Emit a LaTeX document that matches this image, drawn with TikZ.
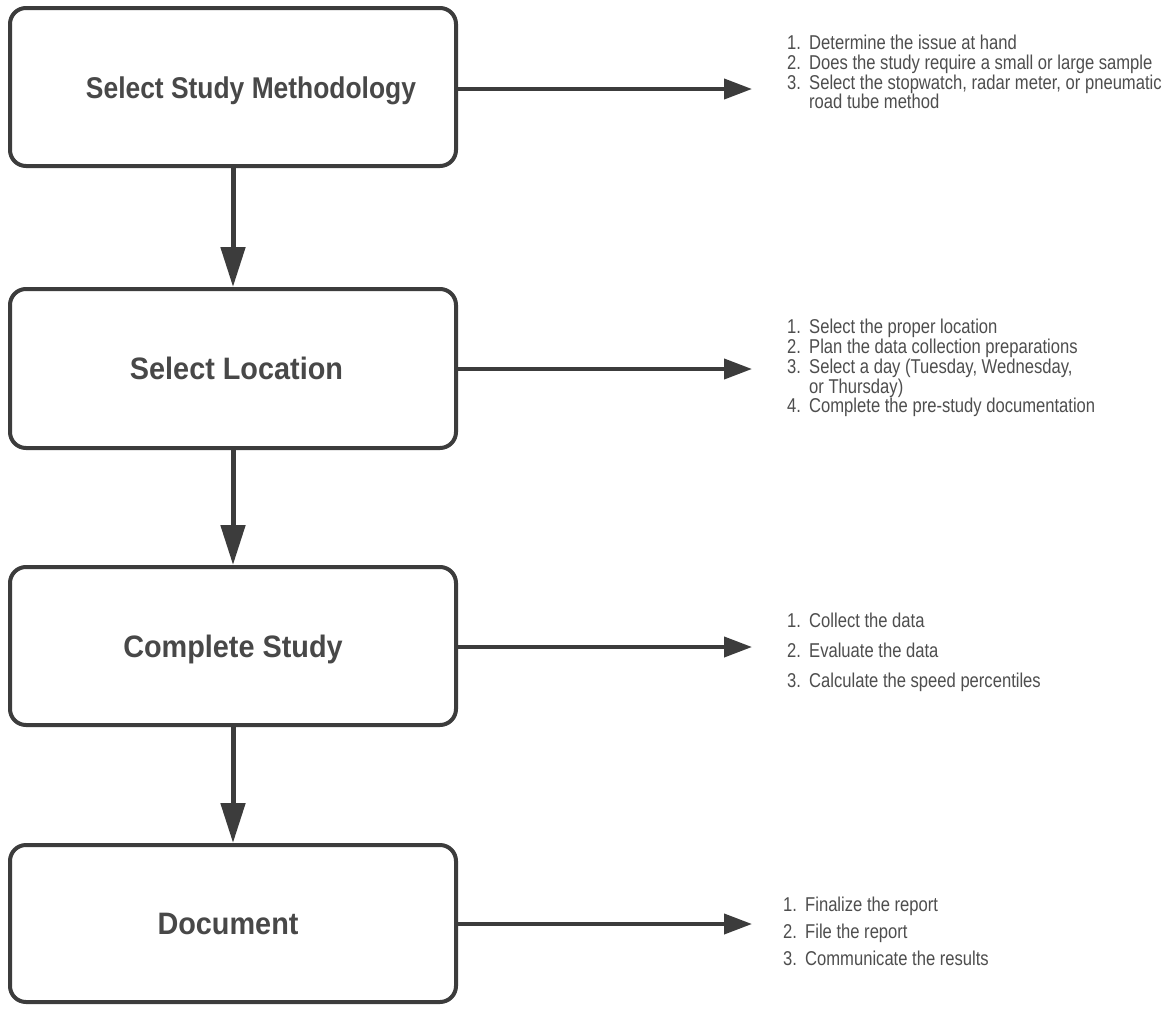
\documentclass[tikz,border=0pt]{standalone}
\usepackage{fontspec}
\setmainfont{Liberation Sans}
\newfontfamily\titlefont[FakeStretch=0.88]{Liberation Sans}
\newfontfamily\titlefontw[FakeStretch=0.93]{Liberation Sans}
\newfontfamily\listfont[FakeStretch=0.83]{Liberation Sans}
\usetikzlibrary{arrows.meta}
\definecolor{linec}{HTML}{3C3C3C}
\definecolor{titlec}{HTML}{484848}
\definecolor{listc}{HTML}{4E4E4E}
\newcommand{\itm}[2]{\makebox[22pt][l]{#1}#2}
\begin{document}
\begin{tikzpicture}[x=1pt,y=-1pt,
  box/.style={draw=linec,line width=4pt,rounded corners=16pt,minimum width=446pt,
    inner sep=0pt,text=titlec,text height=22pt,text depth=0pt},
  tA/.style={font=\titlefont\bfseries\fontsize{30}{36}\selectfont},
  tB/.style={font=\titlefontw\bfseries\fontsize{31}{36}\selectfont},
  varrow/.style={draw=linec,line width=5pt,-{Triangle[length=40pt,width=24pt]}},
  harrow/.style={draw=linec,line width=4pt,-{Triangle[length=28pt,width=20pt]}},
  listtxt/.style={anchor=north west,inner sep=0pt,align=left,text=listc}]
\useasboundingbox (0,0) rectangle (1165,1009);
\fill[white] (0,0) rectangle (1165,1009);

\node[box,tA,minimum height=158pt] (b1) at (233,87) {\hspace*{36pt}Select Study Methodology};
\node[box,tB,minimum height=159pt] (b2) at (233,368.5) {\hspace*{7pt}Select Location};
\node[box,tB,minimum height=158pt] (b3) at (233,646) {Complete Study};
\node[box,tB,minimum height=157pt] (b4) at (233,923.5) {Document\hspace*{10pt}};

\draw[varrow] (b1.south) -- (b2.north);
\draw[varrow] (b2.south) -- (b3.north);
\draw[varrow] (b3.south) -- (b4.north);

\coordinate (t1) at (752,89);
\coordinate (t2) at (752,369);
\coordinate (t3) at (752,647);
\coordinate (t4) at (752,924);
\draw[harrow] (b1.east |- t1) -- (t1);
\draw[harrow] (b2.east |- t2) -- (t2);
\draw[harrow] (b3.east |- t3) -- (t3);
\draw[harrow] (b4.east |- t4) -- (t4);

\node[listtxt,font=\listfont\fontsize{20}{19.7}\selectfont] (l1) at (787,35) {%
\itm{1.}{Determine the issue at hand}\\
\itm{2.}{Does the study require a small or large sample}\\
\itm{3.}{Select the stopwatch, radar meter, or pneumatic}\\
\itm{}{road tube method}};

\node[listtxt,font=\listfont\fontsize{20}{19.8}\selectfont] (l2) at (787,319) {%
\itm{1.}{Select the proper location}\\
\itm{2.}{Plan the data collection preparations}\\
\itm{3.}{Select a day (Tuesday, Wednesday,}\\
\itm{}{or Thursday)}\\
\itm{4.}{Complete the pre-study documentation}};

\node[listtxt,font=\listfont\fontsize{20}{30}\selectfont] (l3) at (787,613) {%
\itm{1.}{Collect the data}\\
\itm{2.}{Evaluate the data}\\
\itm{3.}{Calculate the speed percentiles}};

\node[listtxt,font=\listfont\fontsize{20}{27}\selectfont] (l4) at (783,897) {%
\itm{1.}{Finalize the report}\\
\itm{2.}{File the report}\\
\itm{3.}{Communicate the results}};
\end{tikzpicture}
\end{document}
